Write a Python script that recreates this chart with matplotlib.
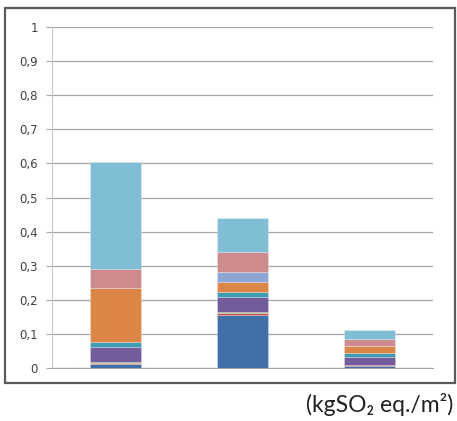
import numpy as np
import matplotlib.pyplot as plt
from matplotlib.patches import Rectangle

# stacked series, bottom to top, one value per bar
categories = ['A', 'B', 'C']
blue = [0.012, 0.156, 0.005]
red = [0.003, 0.004, 0.003]
green = [0.003, 0.004, 0.002]
purple = [0.043, 0.045, 0.021]
teal = [0.016, 0.015, 0.014]
orange = [0.158, 0.029, 0.019]
periwinkle = [0.0, 0.029, 0.0]
pink = [0.055, 0.057, 0.022]
lightblue = [0.315, 0.100, 0.024]

series = [blue, red, green, purple, teal, orange, periwinkle, pink, lightblue]
colors = ['#4170a9', '#c0504d', '#9bbb59', '#725c9b', '#3e9cb5',
          '#db8546', '#8ca5d3', '#cd8b8d', '#80bed5']

yticks = np.arange(0, 1.01, 0.1)
ylabels = ['0'] + ['0,%d' % i for i in range(1, 10)] + ['1']

fig = plt.figure(figsize=(4.57, 4.21), dpi=100)
fig.patches.append(Rectangle((5 / 457, 38 / 421), 450 / 457, 375 / 421,
                             transform=fig.transFigure, fill=False,
                             edgecolor='#5a5a5a', linewidth=1.6))

ax = fig.add_axes([52 / 457, 53 / 421, 381 / 457, 341 / 421])
x = np.arange(len(categories))
bottom = np.zeros(len(categories))
for vals, c in zip(series, colors):
    ax.bar(x, vals, 0.4, bottom=bottom, color=c,
           edgecolor=(1, 1, 1, 0.35), linewidth=0.5, zorder=3)
    bottom += np.array(vals)

ax.set_xlim(-0.5, 2.5)
ax.set_ylim(0, 1)
ax.set_yticks(yticks)
ax.set_yticklabels(ylabels, fontsize=8.5, color='#404040')
ax.set_xticks([])
ax.grid(axis='y', color='#a6a6a6', linewidth=0.9, zorder=0)
for s in ['top', 'right']:
    ax.spines[s].set_visible(False)
ax.spines['left'].set_color('#c8c8c8')
ax.spines['bottom'].set_color('#a6a6a6')
ax.tick_params(axis='y', length=4, color='#a6a6a6', pad=6)

fig.text(453 / 457, 16 / 421, '(kgSO\u2082 eq./m\u00b2)', ha='right', va='center',
         fontsize=16.5, color='#222222', family=['Lato', 'DejaVu Sans'])

fig.savefig('out.png', dpi=100)
